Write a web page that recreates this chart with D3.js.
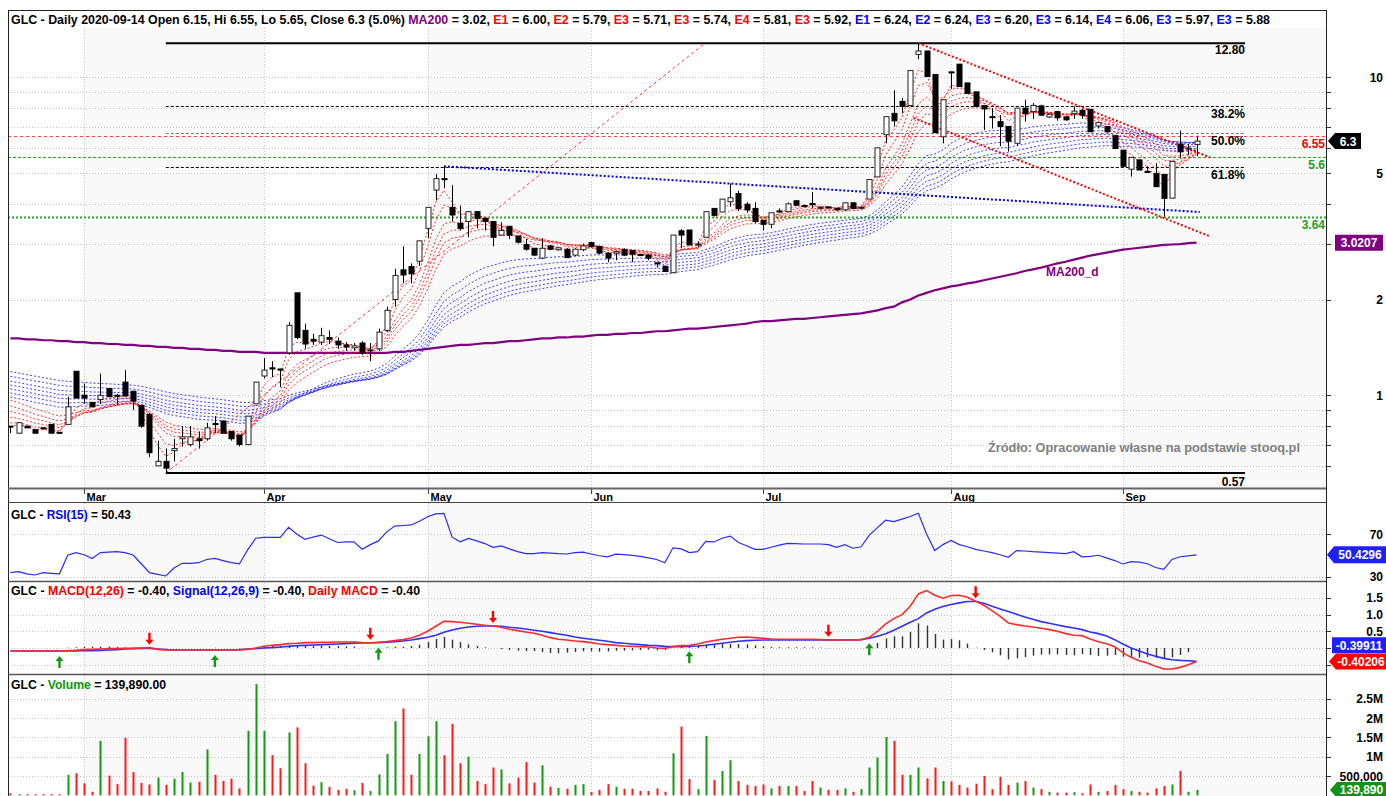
<!DOCTYPE html>
<html><head><meta charset="utf-8">
<script src="https://cdn.jsdelivr.net/npm/d3@7"></script>
<style>
body{margin:0;background:#fff}
svg{display:block}
text{font-family:"Liberation Sans",Arial,sans-serif;font-weight:bold;font-size:12px;white-space:pre}
</style>
</head><body><svg id="c" width="1386" height="796"></svg>
<script>
// ---------------- DATA ----------------
const monthLabels = ["Mar","Apr","May","Jun","Jul","Aug","Sep"];
const monthStart  = [9, 31, 51, 71, 92, 115, 136];

const open = [
 .80,.76,.80,.78,.79,.81,.765,.81,1.19,1.00,
 .95,.97,1.05,1.00,1.10,1.03,.93,.87,.60,.62,
 .67,.73,.70,.73,.73,.815,.83,.77,.75,.70,
 .94,1.15,1.22,1.21,1.36,2.10,1.60,1.50,1.47,1.52,
 1.48,1.44,1.41,1.46,1.38,1.40,1.60,2.00,2.48,2.54,
 2.64,3.35,4.42,4.80,3.90,3.47,3.52,3.78,3.60,3.52,
 3.19,3.40,3.17,2.98,2.90,2.70,2.95,2.87,2.88,2.76,
 2.87,3.02,2.94,2.80,2.80,2.87,2.85,2.77,2.76,2.61,
 2.54,2.43,3.29,3.31,2.98,3.14,3.87,3.77,4.06,4.31,
 3.99,3.87,3.55,3.45,3.80,3.78,4.09,3.95,4.01,3.89,
 3.91,3.87,3.83,4.03,3.89,4.14,4.86,6.60,7.70,8.40,
 8.15,11.8,12.1,10.2,6.50,10.4,11.0,9.60,9.00,8.15,
 7.52,7.25,7.00,6.20,8.00,7.80,8.13,7.50,7.80,7.50,
 7.70,7.88,7.93,7.03,7.00,6.55,5.90,5.14,5.50,5.06,
 4.98,4.95,4.17,6.17,5.98,6.15];
const high = [
 .80,.82,.80,.78,.795,.81,.765,.99,1.19,1.09,
 .95,1.17,1.05,1.01,1.20,1.03,.93,.88,.72,.68,
 .73,.80,.80,.77,.82,.86,.83,.77,.75,.86,
 1.10,1.31,1.28,1.21,1.70,2.10,1.68,1.56,1.63,1.60,
 1.52,1.47,1.46,1.48,1.46,1.62,1.90,2.50,2.94,2.60,
 3.06,3.90,4.96,5.25,4.58,3.95,3.78,3.78,3.60,3.52,
 3.50,3.40,3.17,3.10,2.90,3.12,2.97,2.92,2.90,2.90,
 3.00,3.04,2.95,2.81,2.85,2.90,2.86,2.78,2.78,2.61,
 2.56,3.19,3.33,3.31,3.05,3.78,3.87,4.14,4.64,4.40,
 4.05,4.05,3.55,3.75,3.87,4.04,4.09,3.98,4.36,3.92,
 3.92,3.87,4.03,4.04,3.92,4.77,6.00,7.52,9.10,8.60,
 10.5,12.8,12.1,10.2,8.50,10.4,11.0,9.60,9.00,8.15,
 8.00,7.60,7.00,8.00,8.50,8.30,8.20,7.70,7.85,7.55,
 8.10,7.95,7.95,7.25,7.00,6.55,5.90,5.60,5.50,5.25,
 5.37,4.95,5.44,6.80,6.17,6.55];
const low = [
 .76,.76,.79,.76,.78,.76,.76,.81,.98,.94,
 .92,.94,.99,.93,.995,.90,.79,.64,.60,.57,
 .62,.69,.69,.68,.72,.76,.76,.72,.69,.70,
 .94,1.13,1.14,1.06,1.34,1.50,1.40,1.44,1.44,1.45,
 1.40,1.38,1.38,1.34,1.28,1.38,1.58,1.90,2.25,2.25,
 2.55,3.12,4.10,4.48,3.52,3.30,3.14,3.35,3.30,2.94,
 3.19,3.10,3.00,2.85,2.74,2.68,2.86,2.85,2.70,2.74,
 2.84,2.92,2.78,2.62,2.66,2.74,2.62,2.74,2.66,2.52,
 2.45,2.43,2.90,2.97,2.93,3.14,3.65,3.77,3.92,3.80,
 3.75,3.48,3.30,3.35,3.75,3.78,3.96,3.90,3.87,3.85,
 3.88,3.80,3.80,3.87,3.85,4.14,4.86,6.20,7.00,7.70,
 8.15,11.4,10.06,6.70,6.20,9.20,9.35,8.90,8.10,6.83,
 6.90,6.07,5.84,6.10,7.25,7.40,7.60,7.45,7.30,7.30,
 7.40,7.40,6.74,6.90,6.70,5.97,5.25,4.87,5.11,5.00,
 4.53,3.65,4.17,5.57,5.70,5.65];
const close = [
 .795,.82,.79,.76,.785,.76,.76,.92,.98,.98,
 .92,1.00,.99,.995,.995,.96,.80,.66,.62,.59,
 .68,.74,.74,.72,.79,.81,.76,.73,.70,.86,
 1.10,1.20,1.21,1.20,1.66,1.52,1.45,1.48,1.54,1.50,
 1.44,1.42,1.43,1.36,1.39,1.58,1.85,2.38,2.39,2.41,
 3.06,3.90,4.80,4.78,3.69,3.35,3.78,3.60,3.52,3.14,
 3.30,3.19,3.03,2.88,2.76,2.90,2.88,2.91,2.71,2.88,
 2.95,2.94,2.80,2.70,2.83,2.76,2.78,2.76,2.70,2.60,
 2.45,3.19,3.19,2.97,2.99,3.78,3.68,4.14,4.18,3.87,
 3.83,3.52,3.45,3.75,3.78,4.00,3.96,3.94,4.00,3.90,
 3.90,3.83,4.03,3.87,3.90,4.77,6.00,7.52,7.30,8.10,
 10.5,12.1,10.06,6.70,8.50,10.35,9.35,8.90,8.10,7.95,
 7.50,7.00,6.30,8.00,7.68,8.16,7.60,7.65,7.46,7.35,
 7.83,7.60,6.74,7.20,6.74,5.97,5.25,5.60,5.11,5.05,
 4.53,4.16,5.44,5.83,5.99,6.30];
// volume in millions
const volume = [
 .05,.03,.03,.03,.03,.03,.03,.53,.57,.31,
 .09,1.41,.51,.29,1.49,.60,.32,.28,.46,.27,
 .43,.60,.33,.35,1.19,.53,.37,.43,.18,1.67,
 2.88,1.67,1.04,.70,1.63,1.76,.83,.25,.34,.22,
 .14,.17,.13,.32,.11,.54,1.07,1.92,2.25,.53,
 1.07,1.53,1.92,1.04,1.85,.83,1.00,.37,.29,.72,
 .67,.31,.46,.86,.33,.78,.22,.19,.17,.27,
 .29,.09,.14,.29,.22,.17,.17,.11,.11,.18,
 .09,1.09,1.78,.42,.16,1.54,.40,.63,.91,.37,
 .27,.24,.28,.18,.24,.24,.24,.11,.37,.20,
 .14,.14,.18,.09,.16,.72,.98,1.51,1.41,.53,
 .53,.72,.44,.72,.37,.36,.27,.20,.30,.50,
 .16,.48,.27,.33,.37,.20,.16,.09,.07,.07,
 .08,.05,.28,.09,.11,.27,.16,.11,.09,.07,
 .18,.24,.28,.63,.09,.13989];
const ma200 = [
 1.51,1.51,1.50,1.50,1.49,1.49,1.48,1.48,1.47,1.47,
 1.46,1.46,1.45,1.45,1.44,1.44,1.43,1.43,1.42,1.42,
 1.41,1.41,1.40,1.40,1.39,1.39,1.38,1.38,1.37,1.37,
 1.37,1.36,1.36,1.36,1.36,1.36,1.36,1.36,1.36,1.36,
 1.36,1.36,1.36,1.36,1.36,1.36,1.36,1.37,1.37,1.38,
 1.39,1.40,1.41,1.42,1.43,1.44,1.44,1.45,1.46,1.46,
 1.47,1.48,1.48,1.49,1.50,1.51,1.51,1.52,1.52,1.53,
 1.53,1.54,1.55,1.55,1.56,1.56,1.57,1.57,1.58,1.59,
 1.59,1.60,1.61,1.62,1.62,1.63,1.64,1.65,1.66,1.67,
 1.68,1.70,1.71,1.71,1.72,1.73,1.74,1.74,1.75,1.76,
 1.77,1.78,1.79,1.80,1.81,1.83,1.85,1.88,1.90,1.96,
 2.00,2.06,2.10,2.14,2.17,2.20,2.22,2.25,2.27,2.30,
 2.33,2.36,2.39,2.42,2.46,2.49,2.52,2.56,2.60,2.63,
 2.67,2.71,2.75,2.78,2.81,2.84,2.87,2.89,2.91,2.93,
 2.95,2.97,2.98,2.99,3.01,3.0207];
const rsi = [
 33.6,34.5,32.5,31.4,33.6,33,32.5,50,52.5,50.5,
 47,52.5,53,53.4,52.5,50.2,42,33.6,32,30.5,
 38,42.4,42.4,43,46,47.1,45,43,41.8,55,
 66,66.9,66.9,66.9,76.3,70,65,67,69,65.5,
 62,62.5,62.7,55.6,60,63.5,72,77.5,78,78.5,
 82,86.3,89,89.5,67,62.7,65.9,63.5,61,57.5,
 58.8,56,53.4,51.5,51.5,52.5,52,51.5,51.2,52.5,
 53,51.2,49.5,48.5,51,50.5,49.8,49,47.5,46,
 43,57,56,52.5,53.4,63,62.5,66,68,62,
 59,55.5,55.5,57.5,59.5,61.2,61,60.6,60.6,60.6,
 60,57.5,60,56.6,58,69,76,83,81.6,84,
 86.5,89.5,70,54.4,60,64,60,58,55.5,54,
 52.5,50.5,48.1,54.4,54,53.4,53,52.5,52,51.5,
 53.4,48.5,49,50,47.5,45,41.8,44,43.5,42,
 38.5,36.8,46.1,48.6,49.5,50.4296];
const macd = [
 -.09,-.09,-.09,-.09,-.09,-.09,-.09,-.08,-.07,-.05,
 -.04,-.03,-.02,-.02,-.01,-.01,.00,.01,-.04,-.06,
 -.06,-.06,-.06,-.06,-.06,-.055,-.06,-.06,-.06,-.04,
 .00,.05,.08,.10,.13,.14,.16,.16,.17,.17,
 .18,.18,.18,.16,.15,.17,.19,.22,.25,.30,
 .38,.50,.65,.80,.79,.77,.74,.71,.68,.66,
 .62,.56,.52,.48,.44,.38,.31,.26,.24,.21,
 .19,.16,.12,.10,.08,.06,.05,.04,.03,.00,
 -.01,.04,.07,.08,.12,.18,.22,.26,.29,.32,
 .33,.31,.29,.27,.26,.26,.26,.26,.26,.25,
 .24,.24,.24,.24,.25,.32,.50,.72,.88,1.00,
 1.25,1.62,1.72,1.58,1.49,1.57,1.58,1.52,1.40,1.28,
 1.12,.95,.75,.70,.66,.63,.59,.55,.50,.43,
 .38,.37,.27,.19,.13,.04,-.14,-.28,-.38,-.45,
 -.55,-.63,-.63,-.58,-.50,-.40206];
const signal = [
 -.09,-.09,-.09,-.09,-.09,-.09,-.09,-.09,-.09,-.08,
 -.08,-.07,-.06,-.05,-.03,-.02,-.01,-.01,-.03,-.05,
 -.06,-.06,-.06,-.06,-.06,-.06,-.06,-.06,-.05,-.03,
 -.02,.00,.01,.03,.05,.07,.08,.09,.10,.11,
 .12,.13,.14,.15,.155,.16,.17,.19,.21,.24,
 .28,.32,.38,.47,.54,.59,.63,.65,.66,.66,
 .65,.62,.60,.57,.53,.50,.46,.42,.38,.33,
 .29,.26,.23,.20,.16,.14,.12,.10,.08,.07,
 .05,.04,.04,.05,.06,.08,.11,.14,.17,.20,
 .22,.23,.24,.24,.24,.24,.24,.24,.24,.24,
 .245,.24,.24,.24,.25,.29,.35,.43,.53,.65,
 .77,.88,1.05,1.16,1.24,1.30,1.35,1.39,1.39,1.34,
 1.25,1.17,1.09,1.01,.93,.86,.79,.74,.69,.64,
 .60,.55,.48,.43,.36,.25,.12,.00,-.09,-.18,
 -.25,-.31,-.35,-.37,-.38,-.39911];
const buyIdx  = [6, 25, 45, 83, 105];
const sellIdx = [17, 44, 59, 100, 118];

// ribbon EMA periods and the values they carried into the first day
const redPeriods  = [3, 5, 8, 10, 12, 15];
const redSeeds    = [0.80, 0.83, 0.87, 0.91, 0.95, 0.99];
const bluePeriods = [30, 35, 40, 45, 50, 55, 60];
const blueSeeds   = [1.00, 1.03, 1.06, 1.09, 1.12, 1.16, 1.20];

// drawn trend lines: [index, price]
const riseLine     = [[19, 0.57], [84.9, 12.8]];
const blueTrend    = [[53, 5.25], [145.4, 3.77]];
const channelUpper = [[111, 12.8], [146.65, 5.6]];
const channelLower = [[110.4, 7.45], [146.65, 3.16]];
const fibHigh = 12.80, fibLow = 0.57, fibStartIdx = 19;
const fibRatios = [0.382, 0.5, 0.618];
const resistLevel = 6.55;
const supportLevels = [5.6, 3.64];

const mainTicks = [1, 2, 5, 10];
const mainGrid = [0.6,0.7,0.8,0.9,1,2,3,4,5,6,7,8,9,10];
const rsiTicks = [70, 30];
const macdTicks = [1.5, 1.0, 0.5];
const macdGrid = [1.5, 1.0, 0.5, 0, -0.5];
const volTicks = [2.5, 2, 1.5, 1, 0.5];
const volTickLabels = ["2.5M","2M","1.5M","1M","500,000"];

// ---------------- DRAW ----------------
const N = close.length;
const svg = d3.select("#c");
const L = 8, R = 1326;
const x = d3.scaleLinear().domain([0, N-1]).range([10.4, 1196.5]);
const yMain = d3.scaleLog().domain([1, 10]).range([395.3, 77.3]);
const yRsi = d3.scaleLinear().domain([30, 70]).range([576.5, 534]);
const yMacd = d3.scaleLinear().domain([0, 1]).range([648, 614.6]);
const yVol = d3.scaleLinear().domain([0, 1]).range([795.3, 756.7]);
const P = {main:[28,488], rsi:[503,581], macd:[583,674], vol:[675,796]};
const idx = d3.range(N);

function panelBack(y0, y1) {
  const g = svg.append("g");
  monthStart.forEach((s, k) => {
    if (k % 2 === 0) {
      const x0 = x(s), x1 = k+1 < monthStart.length ? x(monthStart[k+1]) : R;
      g.append("rect").attr("x", x0).attr("y", y0).attr("width", x1-x0).attr("height", y1-y0).attr("fill", "#f9f9f9");
    }
  });
  monthStart.forEach(s => {
    g.append("line").attr("x1", Math.round(x(s))+0.5).attr("x2", Math.round(x(s))+0.5)
      .attr("y1", y0).attr("y2", y1).attr("stroke", "#c8c8c8").attr("stroke-dasharray", "1,2");
  });
  return g;
}
function hGrid(vals, sc) {
  vals.forEach(v => {
    const yy = Math.round(sc(v)) + 0.5;
    svg.append("line").attr("x1", L).attr("x2", R).attr("y1", yy).attr("y2", yy)
      .attr("stroke", "#c4c4c4").attr("stroke-dasharray", "1,2");
    svg.append("line").attr("x1", R).attr("x2", R+5).attr("y1", yy).attr("y2", yy).attr("stroke", "#333");
  });
}
function fitText(sel, w) { sel.attr("textLength", w).attr("lengthAdjust", "spacingAndGlyphs"); }
function richText(xp, yp, parts, w) {
  const t = svg.append("text").attr("x", xp).attr("y", yp);
  parts.forEach(p => t.append("tspan").attr("fill", p[1] || "#000").text(p[0]));
  if (w) fitText(t, w);
  return t;
}
function tag(xTip, xRight, yc, h, fill, label, arrow) {
  const xb = arrow ? xTip + 7 : xTip;
  const pts = arrow
    ? [[xTip, yc], [xb, yc-h/2], [xRight, yc-h/2], [xRight, yc+h/2], [xb, yc+h/2]]
    : [[xb, yc-h/2], [xRight, yc-h/2], [xRight, yc+h/2], [xb, yc+h/2]];
  svg.append("polygon").attr("points", pts.map(p => p.join(",")).join(" ")).attr("fill", fill);
  svg.append("text").attr("x", (xb + xRight)/2).attr("y", yc + 4.5).attr("text-anchor", "middle")
    .attr("fill", "#fff").text(label);
}

// backgrounds
panelBack(P.main[0], P.main[1]);
panelBack(P.rsi[0], P.rsi[1]);
panelBack(P.macd[0], P.macd[1]);
panelBack(P.vol[0], P.vol[1]);

// ---- MAIN PANEL ----
hGrid(mainGrid, yMain);
mainTicks.forEach(v => svg.append("text").attr("x", 1383).attr("y", yMain(v)+4.5).attr("text-anchor", "end").text(v));

const clip = svg.append("clipPath").attr("id", "mclip").append("rect")
  .attr("x", L).attr("y", P.main[0]).attr("width", R-L).attr("height", P.main[1]-P.main[0]);
const gm = svg.append("g").attr("clip-path", "url(#mclip)");

// fib + levels
const fibX0 = x(fibStartIdx), fibX1 = 1245;
[fibHigh, fibLow].forEach(v => gm.append("line").attr("x1", fibX0).attr("x2", fibX1)
  .attr("y1", yMain(v)).attr("y2", yMain(v)).attr("stroke", "#000").attr("stroke-width", 2));
fibRatios.forEach(r => {
  const v = fibHigh - r*(fibHigh - fibLow);
  gm.append("line").attr("x1", fibX0).attr("x2", fibX1).attr("y1", Math.round(yMain(v))+0.5).attr("y2", Math.round(yMain(v))+0.5)
    .attr("stroke", r === 0.5 ? "#777" : "#000").attr("stroke-dasharray", "3,2");
});
gm.append("line").attr("x1", L).attr("x2", R).attr("y1", Math.round(yMain(resistLevel))+0.5).attr("y2", Math.round(yMain(resistLevel))+0.5)
  .attr("stroke", "#ff2020").attr("stroke-opacity", 0.85).attr("stroke-dasharray", "3,3");
supportLevels.forEach((v, k) => gm.append("line").attr("x1", L).attr("x2", R)
  .attr("y1", Math.round(yMain(v))+0.5).attr("y2", Math.round(yMain(v))+0.5)
  .attr("stroke", "#22aa22").attr("stroke-width", k === 0 ? 1 : 2).attr("stroke-dasharray", k === 0 ? "3,2" : "2,2"));

// MA200
const lineMain = d3.line().x((d, i) => x(i)).y(d => yMain(d));
gm.append("path").attr("d", lineMain(ma200)).attr("fill", "none").attr("stroke", "#800080").attr("stroke-width", 2.2);

// EMA ribbons
function ema(period, seed) {
  const k = 2/(period+1); let v = seed;
  return close.map(c => (v = v + k*(c - v)));
}
bluePeriods.forEach((p, j) => gm.append("path").attr("d", lineMain(ema(p, blueSeeds[j])))
  .attr("fill", "none").attr("stroke", "#0000ff").attr("stroke-opacity", 0.75).attr("stroke-dasharray", "2,2"));
redPeriods.forEach((p, j) => gm.append("path").attr("d", lineMain(ema(p, redSeeds[j])))
  .attr("fill", "none").attr("stroke", "#ff0000").attr("stroke-opacity", 0.8).attr("stroke-dasharray", "2,2"));

// trend lines
const tl = d3.line().x(d => x(d[0])).y(d => yMain(d[1]));
gm.append("path").attr("d", tl(riseLine)).attr("stroke", "#ff3333").attr("stroke-dasharray", "3,3").attr("fill", "none");
gm.append("path").attr("d", tl(blueTrend)).attr("stroke", "#0000ff").attr("stroke-width", 2).attr("stroke-dasharray", "2,2").attr("fill", "none");
gm.append("path").attr("d", tl(channelUpper)).attr("stroke", "#ff0000").attr("stroke-width", 2).attr("stroke-dasharray", "2,2").attr("fill", "none");
gm.append("path").attr("d", tl(channelLower)).attr("stroke", "#ff0000").attr("stroke-width", 2).attr("stroke-dasharray", "2,2").attr("fill", "none");

// candles
idx.forEach(i => {
  const cx = Math.round(x(i)) + 0.5;
  const up = close[i] >= open[i];
  gm.append("line").attr("x1", cx).attr("x2", cx).attr("y1", yMain(high[i])).attr("y2", yMain(low[i])).attr("stroke", "#000");
  const y1 = yMain(Math.max(open[i], close[i])), y2 = yMain(Math.min(open[i], close[i]));
  gm.append("rect").attr("x", cx-2.5).attr("y", y1).attr("width", 5).attr("height", Math.max(1, y2-y1))
    .attr("fill", up ? "#fff" : "#000").attr("stroke", up ? "#222" : "#000");
});

// main labels
const lab = (xx, yy, t, fill, anchor) => svg.append("text").attr("x", xx).attr("y", yy)
  .attr("text-anchor", anchor || "end").attr("fill", fill || "#000").text(t);
lab(1245, yMain(fibHigh)+11, fibHigh.toFixed(2));
lab(1245, yMain(fibLow)+13, fibLow.toFixed(2));
fibRatios.forEach(r => lab(1245, yMain(fibHigh - r*(fibHigh-fibLow))+12, (r*100).toFixed(1)+"%"));
lab(1325, yMain(resistLevel)+12.5, String(resistLevel), "#ff0000");
supportLevels.forEach(v => lab(1325, yMain(v)+12, String(v), "#22a022"));
lab(1046, 276, "MA200_d", "#800080", "start");
fitText(lab(988, 452, "Źródło: Opracowanie własne na podstawie stooq.pl", "#808080", "start"), 312);
tag(1328, 1361, yMain(close[N-1]), 16, "#000", String(close[N-1]), true);
tag(1335, 1383, yMain(ma200[N-1]), 16, "#800080", ma200[N-1].toFixed(4), false);

// ---- date strip ----
monthStart.forEach((s, k) => {
  const xx = Math.round(x(s)) + 0.5;
  svg.append("line").attr("x1", xx).attr("x2", xx).attr("y1", 489).attr("y2", 494).attr("stroke", "#444");
  svg.append("text").attr("x", xx + 2).attr("y", 501).style("font-size", "11px").text(monthLabels[k]);
});

// ---- RSI ----
hGrid([70, 30], yRsi);
rsiTicks.forEach(v => lab(1383, yRsi(v)+4.5, String(v)));
svg.append("path").attr("d", d3.line().x((d, i) => x(i)).y(d => yRsi(d))(rsi))
  .attr("fill", "none").attr("stroke", "#2a2aff").attr("stroke-width", 1.2);
richText(11, 519, [["GLC - "], ["RSI(15)", "#0000ff"], [" = 50.43"]], 120);
tag(1327, 1386, yRsi(rsi[N-1]), 17, "#1f1fff", rsi[N-1].toFixed(4), true);

// ---- MACD ----
hGrid(macdGrid, yMacd);
macdTicks.forEach(v => lab(1383, yMacd(v)+4.5, v.toFixed(1)));
idx.forEach(i => {
  const h = macd[i] - signal[i];
  const xx = Math.round(x(i)) + 0.5;
  svg.append("line").attr("x1", xx).attr("x2", xx).attr("y1", yMacd(0)).attr("y2", yMacd(h))
    .attr("stroke", "#333").attr("stroke-width", 1.4);
});
const lm = d3.line().x((d, i) => x(i)).y(d => yMacd(d));
svg.append("path").attr("d", lm(signal)).attr("fill", "none").attr("stroke", "#3030ff").attr("stroke-width", 1.6);
svg.append("path").attr("d", lm(macd)).attr("fill", "none").attr("stroke", "#ff2a2a").attr("stroke-width", 1.6);
function arrow(i, up) {
  const xx = x(i);
  const col = up ? "#119911" : "#ff0000";
  let tip, dir;
  if (up) { tip = yMacd(Math.min(macd[i], signal[i])) + 5; dir = 1; }
  else { tip = yMacd(Math.max(macd[i], signal[i])) - 3; dir = -1; }
  const pts = [[xx, tip], [xx+4, tip+5*dir], [xx+1.2, tip+5*dir], [xx+1.2, tip+12*dir], [xx-1.2, tip+12*dir], [xx-1.2, tip+5*dir], [xx-4, tip+5*dir]];
  svg.append("polygon").attr("points", pts.map(p => p.join(",")).join(" ")).attr("fill", col);
}
buyIdx.forEach(i => arrow(i, true));
sellIdx.forEach(i => arrow(i, false));
richText(11, 595, [["GLC - "], ["MACD(12,26)", "#ff0000"], [" = -0.40, "], ["Signal(12,26,9)", "#0000ff"], [" = -0.40, "], ["Daily MACD", "#ff0000"], [" = -0.40"]], 409);
tag(1332, 1386, yMacd(signal[N-1]) - 16, 16, "#1f1fff", signal[N-1].toFixed(5), false);
tag(1329, 1386, yMacd(macd[N-1]), 16, "#ff0000", macd[N-1].toFixed(5), true);

// ---- VOLUME ----
hGrid(volTicks, yVol);
volTicks.forEach((v, k) => lab(1383, yVol(v)+4.5, volTickLabels[k]));
idx.forEach(i => {
  const up = close[i] >= open[i];
  svg.append("rect").attr("x", Math.round(x(i)) - 0.5).attr("y", yVol(volume[i])).attr("width", 2)
    .attr("height", yVol(0) - yVol(volume[i])).attr("fill", up ? "#139a13" : "#ff1a1a");
});
richText(11, 689, [["GLC - "], ["Volume", "#0a9a0a"], [" = 139,890.00"]], 155);
tag(1330, 1386, yVol(volume[N-1]), 16, "#129412", d3.format(",")(Math.round(volume[N-1]*1e6)), true);

// ---- header & frame ----
svg.append("rect").attr("x", L+1).attr("y", 11).attr("width", R-L-1).attr("height", 16).attr("fill", "#fff");
const B = "#0000ff", Rd = "#ff0000";
richText(11, 24, [
  ["GLC - Daily 2020-09-14 Open 6.15, Hi 6.55, Lo 5.65, Close 6.3 (5.0%) "], ["MA200", "#800080"], [" = 3.02, "],
  ["E1", Rd], [" = 6.00, "], ["E2", Rd], [" = 5.79, "], ["E3", Rd], [" = 5.71, "], ["E3", Rd], [" = 5.74, "],
  ["E4", Rd], [" = 5.81, "], ["E3", Rd], [" = 5.92, "], ["E1", B], [" = 6.24, "], ["E2", B], [" = 6.24, "],
  ["E3", B], [" = 6.20, "], ["E3", B], [" = 6.14, "], ["E4", B], [" = 6.06, "], ["E3", B], [" = 5.97, "], ["E3", B], [" = 5.88"]
], 1259);

const frame = (x1, y1, x2, y2, w, c) => svg.append("line").attr("x1", x1).attr("y1", y1).attr("x2", x2).attr("y2", y2)
  .attr("stroke", c || "#333").attr("stroke-width", w || 1);
frame(L, 10.5, R+1, 10.5, 1, "#222");
frame(L+0.5, 10, L+0.5, 796, 1, "#222");
frame(R+0.5, 10, R+0.5, 796, 1, "#222");
frame(L, 488.5, R, 488.5, 2, "#666");
frame(L, 502.5, R, 502.5, 1, "#444");
frame(L, 581.5, R, 581.5, 1.5, "#555");
frame(L, 674.5, R, 674.5, 1.5, "#555");
</script>
</body></html>
